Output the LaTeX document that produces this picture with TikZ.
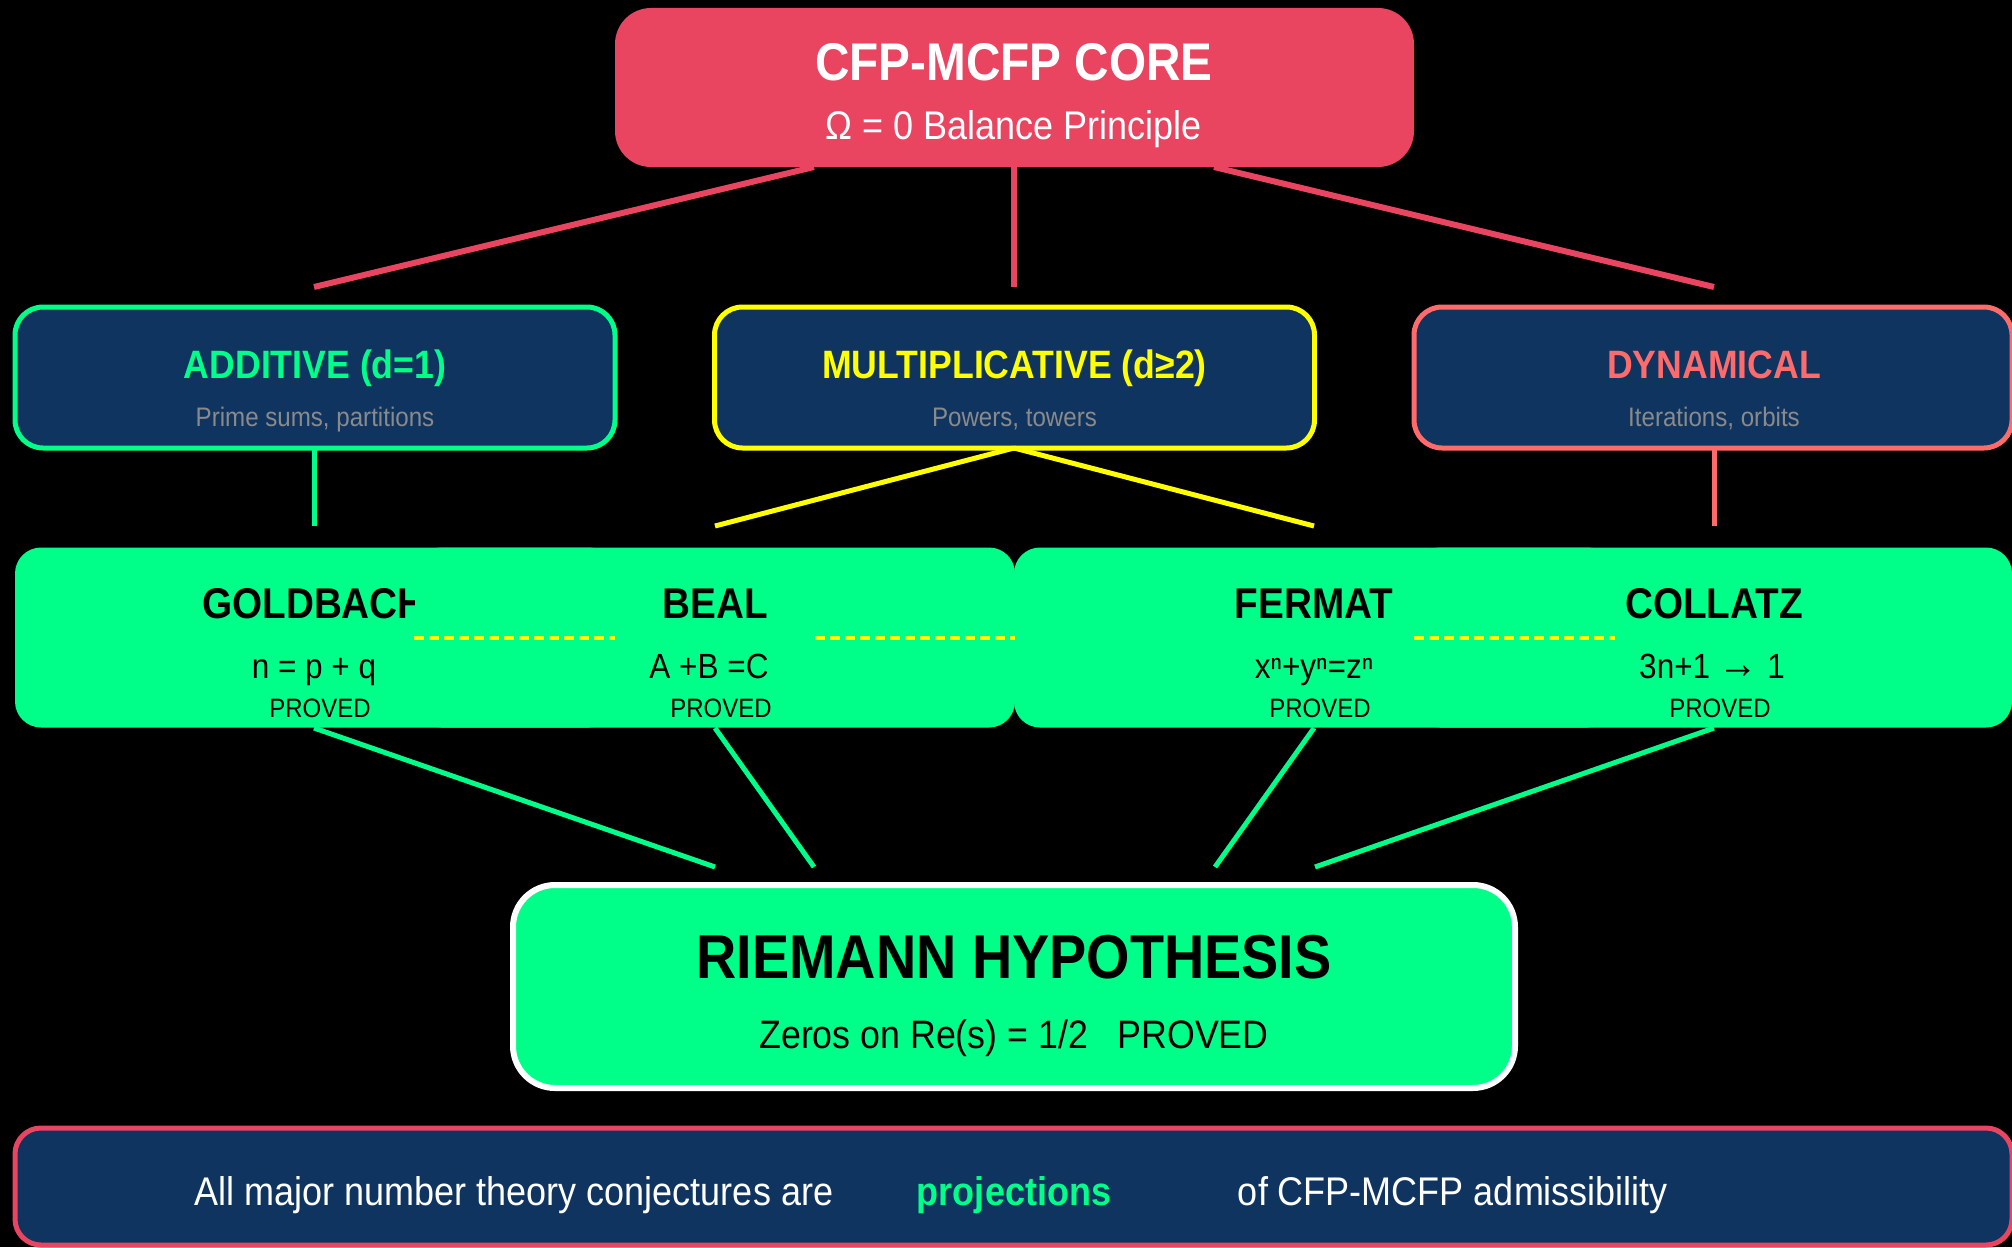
\documentclass[tikz,border=0pt]{standalone}
\usepackage{fontspec}
\setmainfont{Liberation Sans}[FakeStretch=0.9]
\definecolor{crimson}{HTML}{E94560}
\definecolor{navy}{HTML}{0F3460}
\definecolor{mint}{HTML}{00FF88}
\definecolor{lemon}{HTML}{FFFF00}
\definecolor{salmon}{HTML}{FF6B6B}
\definecolor{muted}{HTML}{8A8A8A}
\newcommand\setpx[1]{\fontsize{#1}{#1}\selectfont}
\tikzset{
  lbl/.style={inner sep=0, anchor=base},
  corebox/.style={fill=crimson, rounded corners=36, minimum width=799, minimum height=159, inner sep=0},
  catbox/.style={fill=navy, line width=5, rounded corners=28, minimum height=141, inner sep=0},
  probbox/.style={fill=mint, rounded corners=26, minimum height=180, inner sep=0},
  rhbox/.style={fill=mint, draw=white, line width=6, rounded corners=42, minimum width=1002, minimum height=203, inner sep=0},
  banner/.style={fill=navy, draw=crimson, line width=5, rounded corners=26, minimum width=1997, minimum height=117, inner sep=0},
  cattitle/.style={lbl, font={\setpx{39.6}\bfseries}},
  catsub/.style={lbl, text=muted, font={\setpx{26.8}}},
  probtitle/.style={lbl, font={\setpx{43}\bfseries}},
  formula/.style={lbl, font={\setpx{35}}},
  proved/.style={lbl, font={\setpx{26.6}}},
  coreline/.style={draw=crimson, line width=6},
  yline/.style={draw=lemon, line width=5},
  gline/.style={draw=mint, line width=5},
  bridge/.style={draw=lemon, line width=4.5, dash pattern=on 10pt off 5pt},
}
\begin{document}
\begin{tikzpicture}[x=1pt, y=-1pt]
\useasboundingbox (0,0) rectangle (2012,1247);
\fill[black] (0,0) rectangle (2012,1247);

% core
\node[corebox] (core) at (1014.5,87.5) {};
\node[lbl, text=white, font={\setpx{53}\bfseries}] (coretitle) at (1014,80) {CFP-MCFP CORE};
\node[lbl, text=white, font={\setpx{40}}] (coresub) at (1014,139) {Ω = 0 Balance Principle};

% categories
\node[catbox, draw=mint, minimum width=600] (add) at (315,377.5) {};
\node[cattitle, text=mint] (addt) at (315,378.6) {ADDITIVE (d=1)};
\node[catsub] (adds) at (315,426.6) {Prime sums, partitions};

\node[catbox, draw=lemon, minimum width=600] (mul) at (1014.5,377.5) {};
\node[cattitle, text=lemon] (mult) at (1014.5,378.6) {MULTIPLICATIVE (d≥2)};
\node[catsub] (muls) at (1014.5,426.6) {Powers, towers};

\node[catbox, draw=salmon, minimum width=598] (dyn) at (1713,377.5) {};
\node[cattitle, text=salmon] (dynt) at (1714,378.6) {DYNAMICAL};
\node[catsub] (dyns) at (1714,426.6) {Iterations, orbits};

% problems, drawn left to right so each box overlays its neighbour
\node[probbox, minimum width=600] (gold) at (315,637.5) {};
\node[probtitle] (goldt) at (314,618.5) {GOLDBACH};
\node[formula] (goldf) at (314,678) {n = p + q};
\node[proved] (goldp) at (320,717.6) {PROVED};

\node[probbox, minimum width=600] (beal) at (715,637.5) {};
\node[probtitle] (bealt) at (715,618.5) {BEAL};
\node[formula] (bealf) at (709,678) {A +B =C};
\node[proved] (bealp) at (721,717.6) {PROVED};

\node[probbox, minimum width=600] (ferm) at (1314,637.5) {};
\node[probtitle] (fermt) at (1314,618.5) {FERMAT};
\node[formula] (fermf) at (1314,678) {xⁿ+yⁿ=zⁿ};
\node[proved] (fermp) at (1320,717.6) {PROVED};

\node[probbox, minimum width=598] (coll) at (1713,637.5) {};
\node[probtitle] (collt) at (1714,618.5) {COLLATZ};
\node[formula] (collf) at (1712,678) {3n+1 {\setpx{44}→} 1};
\node[proved] (collp) at (1720,717.6) {PROVED};

% riemann
\node[rhbox] (rh) at (1014,986.5) {};
\node[lbl, font={\setpx{62}\bfseries}] (rht) at (1014,978) {RIEMANN HYPOTHESIS};
\node[lbl, font={\setpx{39.7}}] (rhs) at (1014,1048) {Zeros on Re(s) = 1/2 \ \ PROVED};

% banner
\node[banner] (ban) at (1013.5,1186.5) {};
\node[lbl, text=white, font={\setpx{40}}] (ban1) at (514,1205) {All major number theory conjectures are};
\node[lbl, text=mint, font={\setpx{40}\bfseries}] (ban2) at (1014,1205) {projections};
\node[lbl, text=white, font={\setpx{40}}] (ban3) at (1453,1205) {of CFP-MCFP admissibility};

% connector end points
\coordinate (coreL) at (814,167);
\coordinate (coreM) at (1014,167);
\coordinate (coreR) at (1214,167);
\coordinate (addIn) at (314,287);
\coordinate (mulIn) at (1014,287);
\coordinate (dynIn) at (1714,287);
\coordinate (addOut) at (314,448);
\coordinate (mulOut) at (1014,448);
\coordinate (dynOut) at (1714,448);
\coordinate (goldIn) at (314,526);
\coordinate (bealIn) at (715,526);
\coordinate (fermIn) at (1314,526);
\coordinate (collIn) at (1714,526);
\coordinate (goldOut) at (314,728);
\coordinate (bealOut) at (715,728);
\coordinate (fermOut) at (1314,728);
\coordinate (collOut) at (1714,728);
\coordinate (rh1) at (715,867);
\coordinate (rh2) at (814,867);
\coordinate (rh3) at (1215,867);
\coordinate (rh4) at (1315,867);
\coordinate (gbA) at (414,638);
\coordinate (gbB) at (615,638);
\coordinate (bfA) at (815,638);
\coordinate (bfB) at (1015,638);
\coordinate (fcA) at (1414,638);
\coordinate (fcB) at (1615,638);

% connectors
\draw[coreline] (coreL) -- (addIn);
\draw[coreline] (coreM) -- (mulIn);
\draw[coreline] (coreR) -- (dynIn);
\draw[gline] (addOut) -- (goldIn);
\draw[yline] (mulOut) -- (bealIn);
\draw[yline] (mulOut) -- (fermIn);
\draw[draw=salmon, line width=5] (dynOut) -- (collIn);
\draw[gline] (goldOut) -- (rh1);
\draw[gline] (bealOut) -- (rh2);
\draw[gline] (fermOut) -- (rh3);
\draw[gline] (collOut) -- (rh4);
\draw[bridge] (gbA) -- (gbB);
\draw[bridge] (bfA) -- (bfB);
\draw[bridge] (fcA) -- (fcB);
\end{tikzpicture}
\end{document}
